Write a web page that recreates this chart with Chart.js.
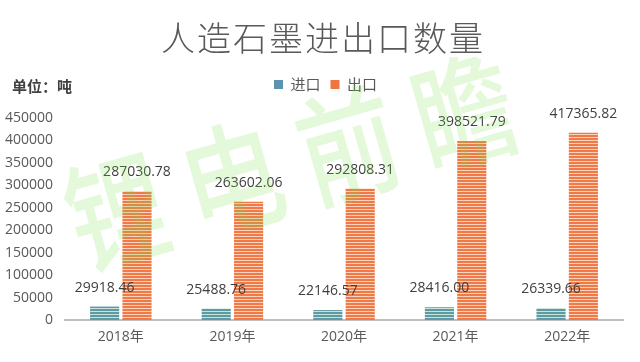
<!DOCTYPE html>
<html>
<head>
<meta charset="utf-8">
<script src="https://cdn.jsdelivr.net/npm/chart.js@4.4.1/dist/chart.umd.min.js"></script>
<style>
  html, body { margin: 0; padding: 0; background: #fff; }
  #wrap { width: 640px; height: 362px; position: relative; }
</style>
</head>
<body>
<div id="wrap"><canvas id="graphiteChart" width="640" height="362"></canvas></div>
<script>
// chart data
const years = ['2018年', '2019年', '2020年', '2021年', '2022年'];
const importValues = [29918.46, 25488.76, 22146.57, 28416.00, 26339.66];
const exportValues = [287030.78, 263602.06, 292808.31, 398521.79, 417365.82];
const seriesNames = ['进口', '出口'];
const yMax = 450000;
const yStep = 50000;

const chartTitle = '人造石墨进出口数量';
const unitText = '单位：吨';
const watermarkText = '锂电前瞻';

const legendColors = ['#5B93B0', '#EE7440'];

// striped fill like the original bars
const makeStripes = (dark, light) => {
    const c = document.createElement('canvas');
    c.width = 4;
    c.height = 3;
    const g = c.getContext('2d');
    g.fillStyle = dark;
    g.fillRect(0, 0, 4, 2);
    g.fillStyle = light;
    g.fillRect(0, 2, 4, 1);
    return g.createPattern(c, 'repeat');
};

const ctx = document.getElementById('graphiteChart').getContext('2d');
const importFill = makeStripes('#5E9AA2', '#C9E2DC');
const exportFill = makeStripes('#EF7A48', '#FBD3BC');

// title, unit text, value labels and watermark
const decorPlugin = {
    id: 'decor',
    afterInit(chart) {
        const legend = chart.legend;
        // leave more room between legend and plot
        const fit = legend.fit;
        legend.fit = function() {
            fit.call(this);
            this.height += 16;
        };
        // legend sits a bit right of centre in the original
        const draw = legend.draw;
        legend.draw = function() {
            this.ctx.save();
            this.ctx.translate(14, 0);
            draw.call(this);
            this.ctx.restore();
        };
    },
    afterDatasetsDraw(chart) {
        const c = chart.ctx;
        c.save();
        c.font = '14px "Open Sans"';
        c.fillStyle = '#404040';
        c.textAlign = 'center';
        c.textBaseline = 'middle';
        chart.data.datasets.forEach((ds, i) => {
            chart.getDatasetMeta(i).data.forEach((bar, j) => {
                c.fillText(ds.data[j].toFixed(2), bar.x, bar.y - 19);
            });
        });
        c.restore();
    },
    afterDraw(chart) {
        const c = chart.ctx;
        c.save();
        c.fillStyle = '#595959';
        c.textAlign = 'center';
        c.textBaseline = 'middle';
        c.font = '300 34px "Noto Sans CJK SC"';
        c.letterSpacing = '2px';
        c.fillText(chartTitle, 323, 38);
        c.letterSpacing = '0px';
        c.textAlign = 'left';
        c.fillStyle = '#404040';
        c.font = 'bold 15px "Noto Sans CJK SC"';
        c.fillText(unitText, 12, 86);

        // watermark on top of everything
        c.translate(290, 162);
        c.rotate(-16 * Math.PI / 180);
        c.scale(0.9, 1.1);
        c.textAlign = 'center';
        c.font = '500 110px "Noto Sans CJK SC"';
        c.letterSpacing = '24px';
        c.fillStyle = 'rgba(120, 220, 70, 0.2)';
        c.fillText(watermarkText, 12, 0);
        c.restore();
    }
};

const chart = new Chart(ctx, {
    type: 'bar',
    data: {
        labels: years,
        datasets: [{
            label: seriesNames[0],
            data: importValues,
            backgroundColor: importFill,
            barPercentage: 0.9,
            categoryPercentage: 0.58
        }, {
            label: seriesNames[1],
            data: exportValues,
            backgroundColor: exportFill,
            barPercentage: 0.9,
            categoryPercentage: 0.58
        }]
    },
    options: {
        responsive: false,
        animation: false,
        layout: {
            padding: { top: 67, right: 17, bottom: 0, left: 0 }
        },
        plugins: {
            title: { display: false },
            tooltip: { enabled: false },
            legend: {
                position: 'top',
                align: 'center',
                labels: {
                    boxWidth: 9,
                    boxHeight: 9,
                    padding: 10,
                    color: '#595959',
                    font: { family: '"Noto Sans CJK SC"', size: 15 },
                    generateLabels(chart) {
                        const items = Chart.defaults.plugins.legend.labels.generateLabels(chart);
                        items.forEach((it, i) => {
                            it.fillStyle = legendColors[i];
                            it.strokeStyle = legendColors[i];
                            it.lineWidth = 0;
                        });
                        return items;
                    }
                }
            }
        },
        scales: {
            x: {
                grid: { display: false, drawTicks: false },
                border: { display: true, color: '#BFBFBF', width: 2 },
                ticks: {
                    color: '#595959',
                    padding: 9,
                    font: { family: '"Open Sans", "Noto Sans CJK SC"', size: 14 }
                },
                afterFit(scale) { scale.height = 42; }
            },
            y: {
                min: 0,
                max: yMax,
                grid: { display: false, drawTicks: false },
                border: { display: false },
                ticks: {
                    stepSize: yStep,
                    color: '#595959',
                    padding: 12,
                    font: { family: '"Open Sans"', size: 14 },
                    callback: (v) => String(v)
                },
                afterFit(scale) { scale.width = 65; }
            }
        }
    },
    plugins: [decorPlugin]
});
</script>
</body>
</html>
